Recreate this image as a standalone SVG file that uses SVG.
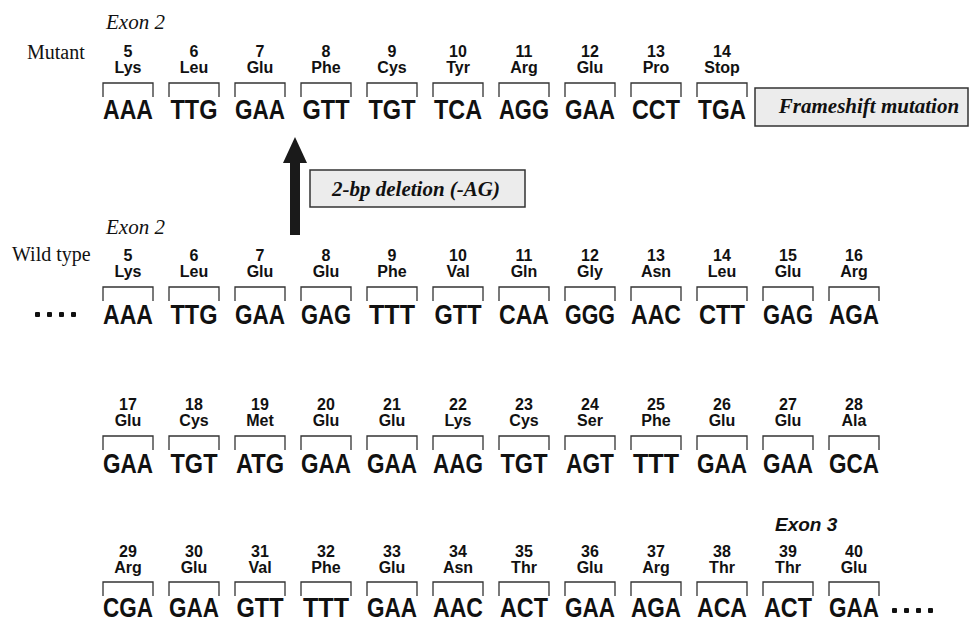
<svg xmlns="http://www.w3.org/2000/svg" width="971" height="624" viewBox="0 0 971 624">
<style>
.lbl{font-family:"Liberation Serif",serif;font-size:20px;fill:#111}
.ex{font-family:"Liberation Serif",serif;font-style:italic;font-size:21px;fill:#111}
.ex3{font-family:"Liberation Sans",sans-serif;font-style:italic;font-weight:bold;font-size:19px;fill:#111}
.num,.aa{font-family:"Liberation Sans",sans-serif;font-weight:bold;font-size:16px;fill:#111;text-anchor:middle}
.cod{font-family:"Liberation Sans",sans-serif;font-weight:bold;font-size:27px;fill:#111;text-anchor:middle}
.br{fill:none;stroke:#333;stroke-width:1.3}
.box{fill:#ececec;stroke:#333;stroke-width:1.5}
.boxt{font-family:"Liberation Serif",serif;font-style:italic;font-weight:bold;font-size:21px;fill:#111;text-anchor:middle}
.dot{fill:#111}
</style>
<defs>
<path id="b" class="br" d="M-25 14V0H25V14"/>
</defs>

<g id="labels">
<text class="ex" x="106" y="29">Exon 2</text>
<text class="lbl" x="27" y="59">Mutant</text>
<text class="ex" x="106" y="234">Exon 2</text>
<text class="lbl" x="12" y="261">Wild type</text>
<text class="ex3" x="775" y="531">Exon 3</text>
</g>

<g id="mutant">
<g id="m5" transform="translate(128,83)"><text class="num" y="-26">5</text><text class="aa" y="-10">Lys</text><use href="#b"/><text class="cod" y="36" textLength="50" lengthAdjust="spacingAndGlyphs">AAA</text></g>
<g id="m6" transform="translate(194,83)"><text class="num" y="-26">6</text><text class="aa" y="-10">Leu</text><use href="#b"/><text class="cod" y="36" textLength="47" lengthAdjust="spacingAndGlyphs">TTG</text></g>
<g id="m7" transform="translate(260,83)"><text class="num" y="-26">7</text><text class="aa" y="-10">Glu</text><use href="#b"/><text class="cod" y="36" textLength="50" lengthAdjust="spacingAndGlyphs">GAA</text></g>
<g id="m8" transform="translate(326,83)"><text class="num" y="-26">8</text><text class="aa" y="-10">Phe</text><use href="#b"/><text class="cod" y="36" textLength="47" lengthAdjust="spacingAndGlyphs">GTT</text></g>
<g id="m9" transform="translate(392,83)"><text class="num" y="-26">9</text><text class="aa" y="-10">Cys</text><use href="#b"/><text class="cod" y="36" textLength="47" lengthAdjust="spacingAndGlyphs">TGT</text></g>
<g id="m10" transform="translate(458,83)"><text class="num" y="-26">10</text><text class="aa" y="-10">Tyr</text><use href="#b"/><text class="cod" y="36" textLength="48" lengthAdjust="spacingAndGlyphs">TCA</text></g>
<g id="m11" transform="translate(524,83)"><text class="num" y="-26">11</text><text class="aa" y="-10">Arg</text><use href="#b"/><text class="cod" y="36" textLength="50" lengthAdjust="spacingAndGlyphs">AGG</text></g>
<g id="m12" transform="translate(590,83)"><text class="num" y="-26">12</text><text class="aa" y="-10">Glu</text><use href="#b"/><text class="cod" y="36" textLength="50" lengthAdjust="spacingAndGlyphs">GAA</text></g>
<g id="m13" transform="translate(656,83)"><text class="num" y="-26">13</text><text class="aa" y="-10">Pro</text><use href="#b"/><text class="cod" y="36" textLength="48" lengthAdjust="spacingAndGlyphs">CCT</text></g>
<g id="m14" transform="translate(722,83)"><text class="num" y="-26">14</text><text class="aa" y="-10">Stop</text><use href="#b"/><text class="cod" y="36" textLength="48" lengthAdjust="spacingAndGlyphs">TGA</text></g>
</g>

<g id="frameshift">
<rect class="box" x="755" y="88" width="213" height="38"/>
<text class="boxt" x="869" y="113" font-size="20">Frameshift mutation</text>
</g>

<g id="deletion">
<rect class="box" x="310" y="170" width="215" height="37"/>
<text class="boxt" x="416" y="196">2-bp deletion (-AG)</text>
</g>

<g id="connectors">
<rect x="290" y="160" width="10" height="75" fill="#1a1a1a"/>
<polygon points="283,163 295,137 307,163" fill="#1a1a1a"/>
</g>

<g id="wt1">
<g id="w5" transform="translate(128,287)"><text class="num" y="-26">5</text><text class="aa" y="-10">Lys</text><use href="#b"/><text class="cod" y="37" textLength="50" lengthAdjust="spacingAndGlyphs">AAA</text></g>
<g id="w6" transform="translate(194,287)"><text class="num" y="-26">6</text><text class="aa" y="-10">Leu</text><use href="#b"/><text class="cod" y="37" textLength="47" lengthAdjust="spacingAndGlyphs">TTG</text></g>
<g id="w7" transform="translate(260,287)"><text class="num" y="-26">7</text><text class="aa" y="-10">Glu</text><use href="#b"/><text class="cod" y="37" textLength="50" lengthAdjust="spacingAndGlyphs">GAA</text></g>
<g id="w8" transform="translate(326,287)"><text class="num" y="-26">8</text><text class="aa" y="-10">Glu</text><use href="#b"/><text class="cod" y="37" textLength="50" lengthAdjust="spacingAndGlyphs">GAG</text></g>
<g id="w9" transform="translate(392,287)"><text class="num" y="-26">9</text><text class="aa" y="-10">Phe</text><use href="#b"/><text class="cod" y="37" textLength="46" lengthAdjust="spacingAndGlyphs">TTT</text></g>
<g id="w10" transform="translate(458,287)"><text class="num" y="-26">10</text><text class="aa" y="-10">Val</text><use href="#b"/><text class="cod" y="37" textLength="47" lengthAdjust="spacingAndGlyphs">GTT</text></g>
<g id="w11" transform="translate(524,287)"><text class="num" y="-26">11</text><text class="aa" y="-10">Gln</text><use href="#b"/><text class="cod" y="37" textLength="50" lengthAdjust="spacingAndGlyphs">CAA</text></g>
<g id="w12" transform="translate(590,287)"><text class="num" y="-26">12</text><text class="aa" y="-10">Gly</text><use href="#b"/><text class="cod" y="37" textLength="50" lengthAdjust="spacingAndGlyphs">GGG</text></g>
<g id="w13" transform="translate(656,287)"><text class="num" y="-26">13</text><text class="aa" y="-10">Asn</text><use href="#b"/><text class="cod" y="37" textLength="50" lengthAdjust="spacingAndGlyphs">AAC</text></g>
<g id="w14" transform="translate(722,287)"><text class="num" y="-26">14</text><text class="aa" y="-10">Leu</text><use href="#b"/><text class="cod" y="37" textLength="46" lengthAdjust="spacingAndGlyphs">CTT</text></g>
<g id="w15" transform="translate(788,287)"><text class="num" y="-26">15</text><text class="aa" y="-10">Glu</text><use href="#b"/><text class="cod" y="37" textLength="50" lengthAdjust="spacingAndGlyphs">GAG</text></g>
<g id="w16" transform="translate(854,287)"><text class="num" y="-26">16</text><text class="aa" y="-10">Arg</text><use href="#b"/><text class="cod" y="37" textLength="50" lengthAdjust="spacingAndGlyphs">AGA</text></g>
</g>

<g id="dotsL">
<rect class="dot" x="35" y="312" width="5" height="5" rx="1"/><rect class="dot" x="47" y="312" width="5" height="5" rx="1"/><rect class="dot" x="59" y="312" width="5" height="5" rx="1"/><rect class="dot" x="71" y="312" width="5" height="5" rx="1"/>
</g>

<g id="wt2">
<g id="w17" transform="translate(128,436)"><text class="num" y="-26">17</text><text class="aa" y="-10">Glu</text><use href="#b"/><text class="cod" y="37" textLength="50" lengthAdjust="spacingAndGlyphs">GAA</text></g>
<g id="w18" transform="translate(194,436)"><text class="num" y="-26">18</text><text class="aa" y="-10">Cys</text><use href="#b"/><text class="cod" y="37" textLength="47" lengthAdjust="spacingAndGlyphs">TGT</text></g>
<g id="w19" transform="translate(260,436)"><text class="num" y="-26">19</text><text class="aa" y="-10">Met</text><use href="#b"/><text class="cod" y="37" textLength="48" lengthAdjust="spacingAndGlyphs">ATG</text></g>
<g id="w20" transform="translate(326,436)"><text class="num" y="-26">20</text><text class="aa" y="-10">Glu</text><use href="#b"/><text class="cod" y="37" textLength="50" lengthAdjust="spacingAndGlyphs">GAA</text></g>
<g id="w21" transform="translate(392,436)"><text class="num" y="-26">21</text><text class="aa" y="-10">Glu</text><use href="#b"/><text class="cod" y="37" textLength="50" lengthAdjust="spacingAndGlyphs">GAA</text></g>
<g id="w22" transform="translate(458,436)"><text class="num" y="-26">22</text><text class="aa" y="-10">Lys</text><use href="#b"/><text class="cod" y="37" textLength="50" lengthAdjust="spacingAndGlyphs">AAG</text></g>
<g id="w23" transform="translate(524,436)"><text class="num" y="-26">23</text><text class="aa" y="-10">Cys</text><use href="#b"/><text class="cod" y="37" textLength="47" lengthAdjust="spacingAndGlyphs">TGT</text></g>
<g id="w24" transform="translate(590,436)"><text class="num" y="-26">24</text><text class="aa" y="-10">Ser</text><use href="#b"/><text class="cod" y="37" textLength="48" lengthAdjust="spacingAndGlyphs">AGT</text></g>
<g id="w25" transform="translate(656,436)"><text class="num" y="-26">25</text><text class="aa" y="-10">Phe</text><use href="#b"/><text class="cod" y="37" textLength="46" lengthAdjust="spacingAndGlyphs">TTT</text></g>
<g id="w26" transform="translate(722,436)"><text class="num" y="-26">26</text><text class="aa" y="-10">Glu</text><use href="#b"/><text class="cod" y="37" textLength="50" lengthAdjust="spacingAndGlyphs">GAA</text></g>
<g id="w27" transform="translate(788,436)"><text class="num" y="-26">27</text><text class="aa" y="-10">Glu</text><use href="#b"/><text class="cod" y="37" textLength="50" lengthAdjust="spacingAndGlyphs">GAA</text></g>
<g id="w28" transform="translate(854,436)"><text class="num" y="-26">28</text><text class="aa" y="-10">Ala</text><use href="#b"/><text class="cod" y="37" textLength="50" lengthAdjust="spacingAndGlyphs">GCA</text></g>
</g>

<g id="wt3">
<g id="w29" transform="translate(128,582)"><text class="num" y="-25">29</text><text class="aa" y="-9">Arg</text><use href="#b"/><text class="cod" y="35" textLength="50" lengthAdjust="spacingAndGlyphs">CGA</text></g>
<g id="w30" transform="translate(194,582)"><text class="num" y="-25">30</text><text class="aa" y="-9">Glu</text><use href="#b"/><text class="cod" y="35" textLength="50" lengthAdjust="spacingAndGlyphs">GAA</text></g>
<g id="w31" transform="translate(260,582)"><text class="num" y="-25">31</text><text class="aa" y="-9">Val</text><use href="#b"/><text class="cod" y="35" textLength="47" lengthAdjust="spacingAndGlyphs">GTT</text></g>
<g id="w32" transform="translate(326,582)"><text class="num" y="-25">32</text><text class="aa" y="-9">Phe</text><use href="#b"/><text class="cod" y="35" textLength="46" lengthAdjust="spacingAndGlyphs">TTT</text></g>
<g id="w33" transform="translate(392,582)"><text class="num" y="-25">33</text><text class="aa" y="-9">Glu</text><use href="#b"/><text class="cod" y="35" textLength="50" lengthAdjust="spacingAndGlyphs">GAA</text></g>
<g id="w34" transform="translate(458,582)"><text class="num" y="-25">34</text><text class="aa" y="-9">Asn</text><use href="#b"/><text class="cod" y="35" textLength="50" lengthAdjust="spacingAndGlyphs">AAC</text></g>
<g id="w35" transform="translate(524,582)"><text class="num" y="-25">35</text><text class="aa" y="-9">Thr</text><use href="#b"/><text class="cod" y="35" textLength="48" lengthAdjust="spacingAndGlyphs">ACT</text></g>
<g id="w36" transform="translate(590,582)"><text class="num" y="-25">36</text><text class="aa" y="-9">Glu</text><use href="#b"/><text class="cod" y="35" textLength="50" lengthAdjust="spacingAndGlyphs">GAA</text></g>
<g id="w37" transform="translate(656,582)"><text class="num" y="-25">37</text><text class="aa" y="-9">Arg</text><use href="#b"/><text class="cod" y="35" textLength="50" lengthAdjust="spacingAndGlyphs">AGA</text></g>
<g id="w38" transform="translate(722,582)"><text class="num" y="-25">38</text><text class="aa" y="-9">Thr</text><use href="#b"/><text class="cod" y="35" textLength="50" lengthAdjust="spacingAndGlyphs">ACA</text></g>
<g id="w39" transform="translate(788,582)"><text class="num" y="-25">39</text><text class="aa" y="-9">Thr</text><use href="#b"/><text class="cod" y="35" textLength="48" lengthAdjust="spacingAndGlyphs">ACT</text></g>
<g id="w40" transform="translate(854,582)"><text class="num" y="-25">40</text><text class="aa" y="-9">Glu</text><use href="#b"/><text class="cod" y="35" textLength="50" lengthAdjust="spacingAndGlyphs">GAA</text></g>
</g>

<g id="dotsR">
<rect class="dot" x="892" y="608" width="5" height="5" rx="1"/><rect class="dot" x="904" y="608" width="5" height="5" rx="1"/><rect class="dot" x="916" y="608" width="5" height="5" rx="1"/><rect class="dot" x="928" y="608" width="5" height="5" rx="1"/>
</g>
</svg>
